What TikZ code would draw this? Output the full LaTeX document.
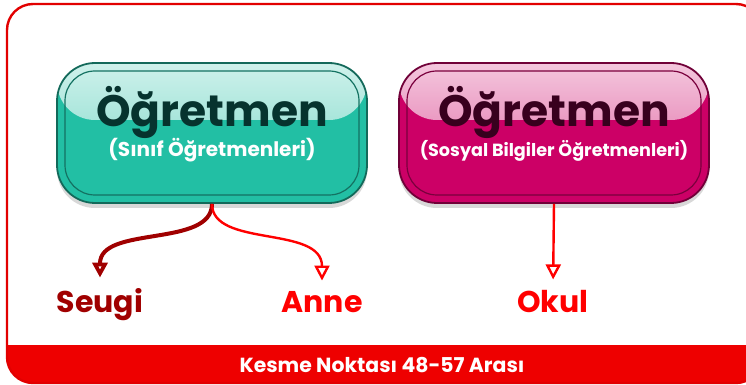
\documentclass[tikz,border=0pt]{standalone}
\usepackage{fontspec}
\setmainfont{Poppins}
\usetikzlibrary{arrows.meta,positioning,shadows}

\definecolor{framered}{HTML}{E20000}
\definecolor{bandred}{HTML}{EE0000}
\definecolor{tealbox}{HTML}{22BFA4}
\definecolor{tealink}{HTML}{06332E}
\definecolor{pinkbox}{HTML}{CC0066}
\definecolor{pinkink}{HTML}{38001E}
\definecolor{darkred}{HTML}{A00000}
\definecolor{brightred}{HTML}{FF0000}

\begin{document}
\begin{tikzpicture}[
    x=0.5pt, y=-0.5pt,
    box/.style={draw=#1!55!black, line width=0.9pt, rounded corners=19pt,
        minimum width=155pt, minimum height=70pt, inner sep=0pt, fill=#1,
        drop shadow={shadow xshift=0pt, shadow yshift=-2.5pt, fill=black!30},
        path picture={
            \fill[top color=#1!22!white, bottom color=#1!65!white]
                (path picture bounding box.north west) rectangle
                ([yshift=-28.5pt]path picture bounding box.north east);
            \draw[#1!60!black, line width=0.6pt, rounded corners=15pt]
                ([shift={(4pt,-4pt)}]path picture bounding box.north west) rectangle
                ([shift={(-4pt,4pt)}]path picture bounding box.south east);}},
    title/.style={anchor=base, inner sep=0pt, font=\fontsize{22}{24}\selectfont\bfseries},
    subtitle/.style={anchor=base, inner sep=0pt, text=white, font=\bfseries},
    leaf/.style={anchor=base, inner sep=0pt, font=\fontsize{15}{17}\selectfont\bfseries},
    tip/.style={-{Triangle[width=7.5pt,length=7.5pt,fill=white]}, shorten >=5.5pt},
]
\useasboundingbox (0,0) rectangle (746,385);
\clip (0,0) rectangle (746,385);

% Frame and bottom band
\begin{scope}
    \clip[rounded corners=13pt] (7,4) rectangle (762,383);
    \fill[bandred] (0,345) rectangle (770,390);
\end{scope}
\draw[framered, line width=1.2pt, rounded corners=13pt] (7,4) rectangle (762,383);
\node[inner sep=0pt, anchor=base, text=white, font=\fontsize{10.2}{12}\selectfont\bfseries]
    (band) at (382,372) {Kesme Noktası 48-57 Arası};

% Boxes with titles
\foreach \name/\x/\col/\ink/\fs/\sub in {
    sinif/212/tealbox/tealink/10/{(Sınıf Öğretmenleri)},
    sosyal/554/pinkbox/pinkink/8.8/{(Sosyal Bilgiler Öğretmenleri)}} {
    \node[box=\col] (\name) at (\x,133) {};
    \node[title, text=\ink] (\name-t) at (\x,127) {Öğretmen};
    \node[subtitle, font=\fontsize{\fs}{11}\selectfont\bfseries] (\name-s) at (\x,157) {\sub};
}

% Leaves
\foreach \name/\x/\col/\txt in {seugi/100/darkred/Seugi, anne/322/brightred/Anne, okul/553/brightred/Okul} {
    \node[leaf, text=\col] (\name) at (\x,313) {\txt};
}

% Arrows
\draw[tip, darkred, line width=2pt] (sinif.south) .. controls (212,248) and (100,225) .. (seugi.north);
\draw[tip, brightred, line width=1.2pt] (sinif.south) .. controls (212,248) and (322,225) .. (anne.north);
\draw[tip, brightred, line width=1.2pt] (sosyal.south) -- (okul.north);

\end{tikzpicture}
\end{document}
